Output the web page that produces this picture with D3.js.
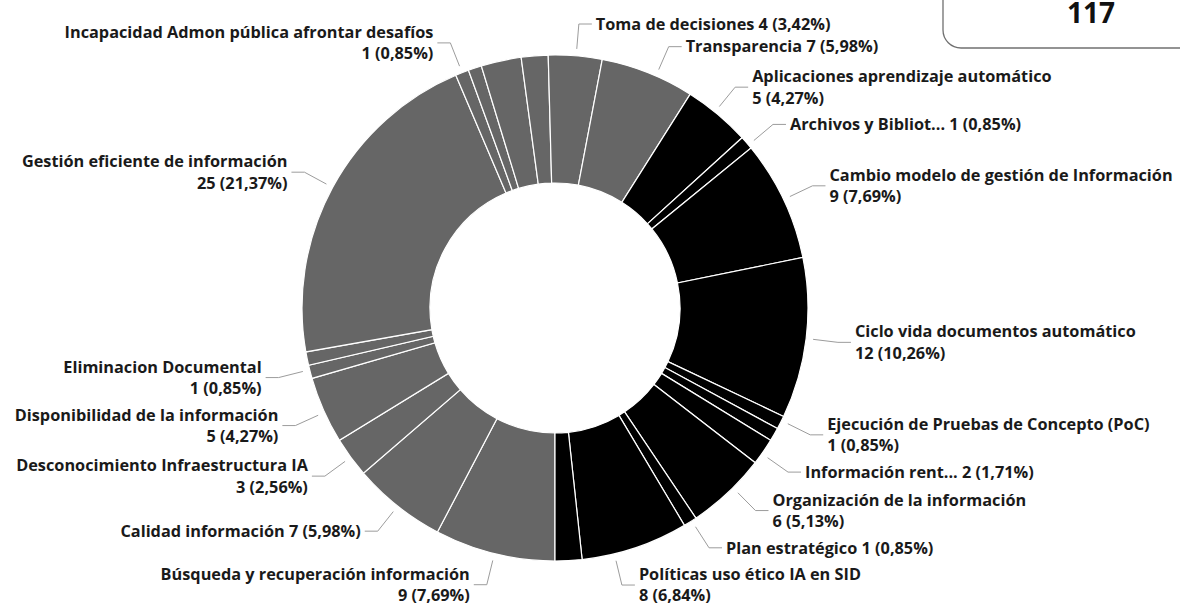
<!DOCTYPE html>
<html><head><meta charset="utf-8">
<script src="https://cdn.jsdelivr.net/npm/d3@7"></script>
<style>
html,body{margin:0;padding:0;background:#fff;}
svg{display:block;font-family:"Open Sans","Noto Sans",sans-serif;}
</style></head>
<body><svg id="chart" width="1180" height="605"></svg>
<script>
// ---- data (slice order as drawn, clockwise from 6 o'clock) ----
const categories = [
  "Búsqueda y recuperación información",
  "Calidad información",
  "Desconocimiento Infraestructura IA",
  "Disponibilidad de la información",
  "Eliminacion Documental",
  "Sin etiqueta A",
  "Gestión eficiente de información",
  "Incapacidad Admon pública afrontar desafíos",
  "Sin etiqueta B",
  "Sin etiqueta C",
  "Sin etiqueta D",
  "Toma de decisiones",
  "Transparencia",
  "Aplicaciones aprendizaje automático",
  "Archivos y Bibliot...",
  "Cambio modelo de gestión de Información",
  "Ciclo vida documentos automático",
  "Ejecución de Pruebas de Concepto (PoC)",
  "Sin etiqueta E",
  "Información rent...",
  "Organización de la información",
  "Plan estratégico",
  "Políticas uso ético IA en SID",
  "Sin etiqueta F"
];
const values = [9, 7, 3, 5, 1, 1, 25, 1, 1, 3, 2, 4, 7, 5, 1, 9, 12, 1, 1, 2, 6, 1, 8, 2];
const groups = ["G","G","G","G","G","G","G","G","G","G","G","G","G",
                "N","N","N","N","N","N","N","N","N","N","N"];
const hiddenLabels = ["Sin etiqueta A","Sin etiqueta B","Sin etiqueta C","Sin etiqueta D","Sin etiqueta E","Sin etiqueta F"];
const groupNames = ["G", "N"];
const groupColors = ["#666666", "#000000"];
const cardValue = 117;

// ---- layout ----
const svg = d3.select("#chart");
const cx = 555, cy = 308, R = 253, R0 = 125;
const Rs = R + 7, Re = 285;
const lineH = 21.5, pad = 5;
const fontSize = 16.3;

const data = categories.map((c, i) => ({name: c, value: values[i], group: groups[i]}));
const total = d3.sum(values);
const color = d3.scaleOrdinal().domain(groupNames).range(groupColors);

const pie = d3.pie().sort(null).value(d => d.value)
  .startAngle(Math.PI).endAngle(3 * Math.PI);
const arcs = pie(data);
const arc = d3.arc().innerRadius(R0).outerRadius(R);

const g = svg.append("g").attr("transform", `translate(${cx},${cy})`);
g.selectAll("path.slice").data(arcs).join("path")
  .attr("class", "slice")
  .attr("d", arc)
  .attr("fill", d => color(d.data.group))
  .attr("stroke", "#ffffff")
  .attr("stroke-width", 1.2);

// ---- labels ----
const fmtPct = v => (v / total * 100).toFixed(2).replace(".", ",");
const labels = arcs.filter(a => !hiddenLabels.includes(a.data.name)).map(a => {
  let mid = ((a.startAngle + a.endAngle) / 2) % (2 * Math.PI);
  const side = Math.sin(mid) >= 0 ? 1 : -1;
  const valTxt = `${a.data.value} (${fmtPct(a.data.value)}%)`;
  const single = a.data.name.length <= 21;
  const lines = single ? [`${a.data.name} ${valTxt}`] : [a.data.name, valTxt];
  return {a, mid, side, lines, h: lines.length * lineH, y: cy - Re * Math.cos(mid)};
});

[1, -1].forEach(s => {
  const L = labels.filter(l => l.side === s).sort((p, q) => p.y - q.y);
  for (let it = 0; it < 300; it++) {
    let moved = false;
    for (let i = 0; i < L.length - 1; i++) {
      const need = L[i].h / 2 + L[i + 1].h / 2 + pad;
      const gap = L[i + 1].y - L[i].y;
      if (gap < need - 0.01) {
        const d = (need - gap) / 2;
        L[i].y -= d; L[i + 1].y += d; moved = true;
      }
    }
    if (!moved) break;
  }
});

const lg = svg.append("g");
labels.forEach(l => {
  let dy = Math.max(-Re + 1, Math.min(Re - 1, l.y - cy));
  const ex = cx + l.side * Math.sqrt(Re * Re - dy * dy);
  const ey = cy + dy;
  const ang = Math.atan2(ex - cx, -(ey - cy));
  const sx = cx + Rs * Math.sin(ang), sy = cy - Rs * Math.cos(ang);
  const hx = ex + l.side * 13;
  lg.append("polyline")
    .attr("points", `${sx},${sy} ${ex},${ey} ${hx},${ey}`)
    .attr("fill", "none").attr("stroke", "#9c9c9c").attr("stroke-width", 1);
  const t = lg.append("text")
    .attr("x", hx + l.side * 4)
    .attr("text-anchor", l.side > 0 ? "start" : "end")
    .attr("font-size", fontSize).attr("font-weight", 700).attr("fill", "#1a1a1a");
  const y0 = ey - (l.lines.length - 1) * lineH / 2;
  l.lines.forEach((ln, i) => {
    t.append("tspan").attr("x", hx + l.side * 4).attr("y", y0 + i * lineH)
      .attr("dy", "0.35em").text(ln);
  });
});

// ---- card ----
svg.append("rect").attr("x", 943).attr("y", -40).attr("width", 260).attr("height", 88)
  .attr("rx", 18).attr("fill", "#fff").attr("stroke", "#707070").attr("stroke-width", 1.3);
svg.append("text").attr("x", 1091).attr("y", 23).attr("text-anchor", "middle")
  .attr("font-size", 28).attr("font-weight", 700).attr("fill", "#111")
  .text(d3.format("d")(cardValue));
</script>
</body></html>
